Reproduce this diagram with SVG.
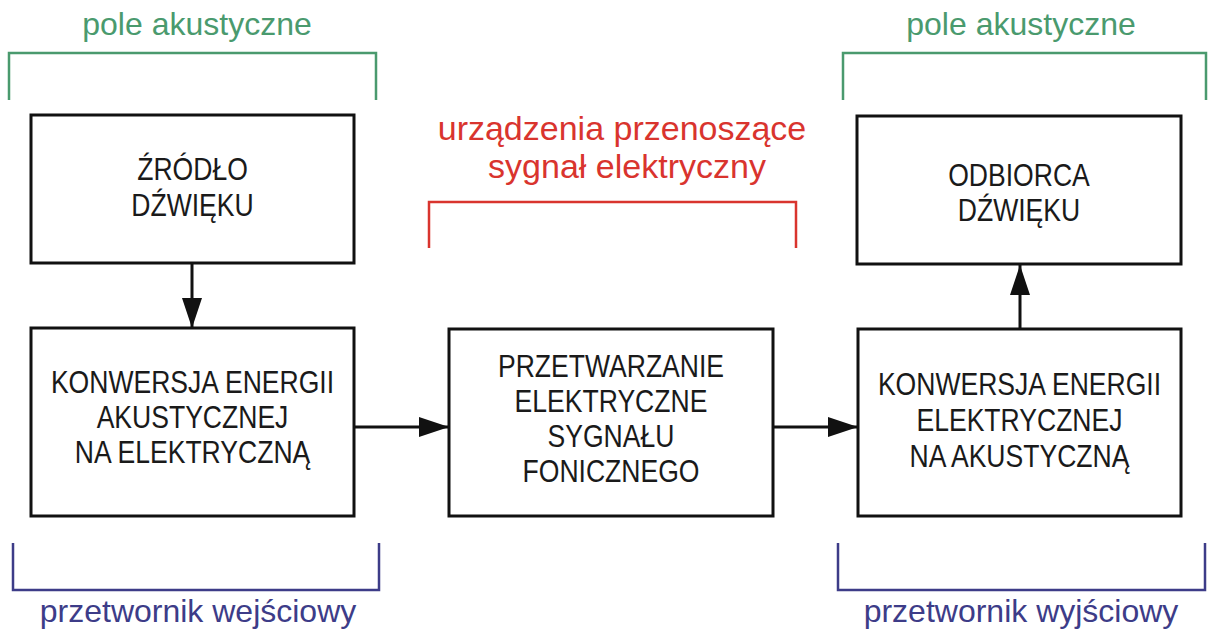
<svg xmlns="http://www.w3.org/2000/svg" width="1208" height="635" viewBox="0 0 1208 635">
<style>
.box{fill:#fff;stroke:#111;stroke-width:3}
.bt{font-family:"Liberation Sans",Arial,sans-serif;font-size:32px;fill:#1a1a1a;text-anchor:middle}
.lbl{font-family:"Liberation Sans",Arial,sans-serif;font-size:32px;text-anchor:middle}
.br{fill:none;stroke-width:2.5}
.g{fill:#4a9a6e}.gs{stroke:#4a9a6e}
.r{fill:#d9342e}.rs{stroke:#d9342e}
.b{fill:#3d3c88}.bs{stroke:#3d3c88}
.con{stroke:#111;stroke-width:3;fill:none}
</style>
<defs>
<marker id="ah" viewBox="0 0 30 20" refX="30" refY="10" markerWidth="30" markerHeight="20" markerUnits="userSpaceOnUse" orient="auto">
<path d="M0,0 L30,10 L0,20 Z" fill="#111"/>
</marker>
</defs>
<rect width="1208" height="635" fill="#fff"/>

<g id="labels">
<text class="lbl g" x="197" y="35">pole akustyczne</text>
<path class="br gs" d="M9,100 V53 H376 V100"/>
<text class="lbl g" x="1021" y="35">pole akustyczne</text>
<path class="br gs" d="M843,100 V53 H1206 V100"/>
<text class="lbl r" x="622" y="140" style="font-size:34px">urządzenia przenoszące</text>
<text class="lbl r" x="627" y="178" style="font-size:34px">sygnał elektryczny</text>
<path class="br rs" d="M429,248 V202 H796 V248"/>
<path class="br bs" d="M13,543 V590 H379 V543"/>
<text class="lbl b" x="198" y="622">przetwornik wejściowy</text>
<path class="br bs" d="M838,543 V590 H1205 V543"/>
<text class="lbl b" x="1021" y="622">przetwornik wyjściowy</text>
</g>

<g id="connectors">
<line class="con" x1="192" y1="263" x2="192" y2="328" marker-end="url(#ah)"/>
<line class="con" x1="354" y1="427" x2="449" y2="427" marker-end="url(#ah)"/>
<line class="con" x1="773" y1="427" x2="858" y2="427" marker-end="url(#ah)"/>
<line class="con" x1="1020" y1="329" x2="1020" y2="265" marker-end="url(#ah)"/>
</g>

<g id="zrodlo">
<rect class="box" x="31" y="115" width="323" height="148"/>
<g transform="translate(192.5,0) scale(0.83,1)">
<text class="bt" x="0" y="180">ŹRÓDŁO</text>
<text class="bt" x="0" y="216">DŹWIĘKU</text>
</g>
</g>

<g id="konwersja-ak-el">
<rect class="box" x="31" y="328" width="323" height="188"/>
<g transform="translate(192.5,0) scale(0.83,1)">
<text class="bt" x="0" y="393">KONWERSJA ENERGII</text>
<text class="bt" x="0" y="428">AKUSTYCZNEJ</text>
<text class="bt" x="0" y="463">NA ELEKTRYCZNĄ</text>
</g>
</g>

<g id="przetwarzanie">
<rect class="box" x="449" y="329" width="324" height="187"/>
<g transform="translate(611,0) scale(0.83,1)">
<text class="bt" x="0" y="377">PRZETWARZANIE</text>
<text class="bt" x="0" y="412">ELEKTRYCZNE</text>
<text class="bt" x="0" y="447">SYGNAŁU</text>
<text class="bt" x="0" y="482">FONICZNEGO</text>
</g>
</g>

<g id="odbiorca">
<rect class="box" x="857" y="116" width="324" height="148"/>
<g transform="translate(1019,0) scale(0.83,1)">
<text class="bt" x="0" y="186">ODBIORCA</text>
<text class="bt" x="0" y="221">DŹWIĘKU</text>
</g>
</g>

<g id="konwersja-el-ak">
<rect class="box" x="858" y="329" width="323" height="187"/>
<g transform="translate(1019.5,0) scale(0.83,1)">
<text class="bt" x="0" y="395">KONWERSJA ENERGII</text>
<text class="bt" x="0" y="431">ELEKTRYCZNEJ</text>
<text class="bt" x="0" y="467">NA AKUSTYCZNĄ</text>
</g>
</g>
</svg>
